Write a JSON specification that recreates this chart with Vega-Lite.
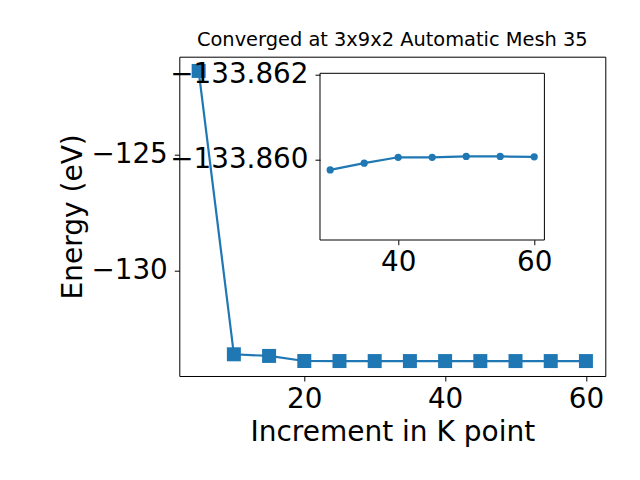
{
  "$schema": "https://vega.github.io/schema/vega-lite/v6.json",
  "width": 426,
  "height": 319.3,
  "autosize": {"type": "none"},
  "padding": {"left": 179.3, "top": 56.7, "right": 34.7, "bottom": 104},
  "background": "white",
  "title": {"text": "Converged at 3x9x2 Automatic Mesh 35", "fontSize": 19.4, "font": "DejaVu Sans", "fontWeight": "normal", "color": "black", "offset": 6},
  "datasets": {
    "energy": [
      {"k": 5, "E": -121.43},
      {"k": 10, "E": -133.57},
      {"k": 15, "E": -133.64},
      {"k": 20, "E": -133.858},
      {"k": 25, "E": -133.859},
      {"k": 30, "E": -133.85975},
      {"k": 35, "E": -133.85991},
      {"k": 40, "E": -133.86005},
      {"k": 45, "E": -133.86005},
      {"k": 50, "E": -133.86007},
      {"k": 55, "E": -133.86007},
      {"k": 60, "E": -133.86006}
    ],
    "frame": [{"x0": 28.5, "x1": 61.5, "y0": -133.86204, "y1": -133.85809}]
  },
  "layer": [
    {
      "data": {"name": "energy"},
      "encoding": {
        "x": {"field": "k", "type": "quantitative", "scale": {"domain": [2.25, 62.75], "nice": false, "zero": false}, "axis": {"orient": "bottom", "values": [20, 40, 60], "title": "Increment in K point", "format": "d"}},
        "y": {"field": "E", "type": "quantitative", "scale": {"domain": [-134.5, -120.82], "nice": false, "zero": false}, "axis": {"orient": "left", "values": [-130, -125], "title": "Energy (eV)", "format": "d", "labelPadding": 7, "titlePadding": 3}}
      },
      "layer": [
        {"mark": {"type": "line", "color": "#1f77b4", "strokeWidth": 2.2}},
        {"mark": {"type": "square", "size": 196, "filled": true, "opacity": 1, "color": "#1f77b4"}}
      ]
    },
    {
      "layer": [
        {
          "data": {"name": "frame"},
          "mark": {"type": "rect", "fill": "white", "stroke": "black", "strokeWidth": 1},
          "encoding": {
            "x": {"field": "x0", "type": "quantitative", "scale": {"domain": [28.5, 61.5], "range": [140.7, 365.1], "nice": false, "zero": false}, "axis": {"orient": "bottom", "offset": -136.3, "values": [40, 60], "title": null, "format": "d", "zindex": 1}},
            "x2": {"field": "x1"},
            "y": {"field": "y0", "type": "quantitative", "scale": {"domain": [-133.86204, -133.85809], "range": [16.6, 183.3], "nice": false, "zero": false}, "axis": {"orient": "left", "offset": -140.7, "values": [-133.862, -133.86], "title": null, "format": ".3f", "zindex": 1, "labelPadding": 7}},
            "y2": {"field": "y1"}
          }
        },
        {
          "data": {"name": "energy"},
          "transform": [{"filter": "datum.k >= 30"}],
          "encoding": {
            "x": {"field": "k", "type": "quantitative", "scale": {"domain": [28.5, 61.5], "range": [140.7, 365.1], "nice": false, "zero": false}, "axis": {"orient": "bottom", "offset": -136.3, "values": [40, 60], "title": null, "format": "d", "zindex": 1}},
            "y": {"field": "E", "type": "quantitative", "scale": {"domain": [-133.86204, -133.85809], "range": [16.6, 183.3], "nice": false, "zero": false}, "axis": {"orient": "left", "offset": -140.7, "values": [-133.862, -133.86], "title": null, "format": ".3f", "zindex": 1, "labelPadding": 7}}
          },
          "layer": [
            {"mark": {"type": "line", "color": "#1f77b4", "strokeWidth": 2.2}},
            {"mark": {"type": "circle", "size": 52, "opacity": 1, "color": "#1f77b4"}}
          ]
        }
      ]
    }
  ],
  "resolve": {"scale": {"x": "independent", "y": "independent"}, "axis": {"x": "independent", "y": "independent"}},
  "config": {
    "view": {"stroke": "black", "strokeWidth": 1},
    "axis": {
      "grid": false,
      "domain": false,
      "labelFont": "DejaVu Sans",
      "labelFontSize": 27.8,
      "labelColor": "black",
      "labelPadding": 4,
      "labelFlush": false,
      "labelOverlap": false,
      "labelBound": false,
      "tickColor": "black",
      "tickSize": 5,
      "tickWidth": 1,
      "titleFont": "DejaVu Sans",
      "titleFontSize": 28,
      "titleFontWeight": "normal",
      "titleColor": "black",
      "titlePadding": 6
    }
  }
}
